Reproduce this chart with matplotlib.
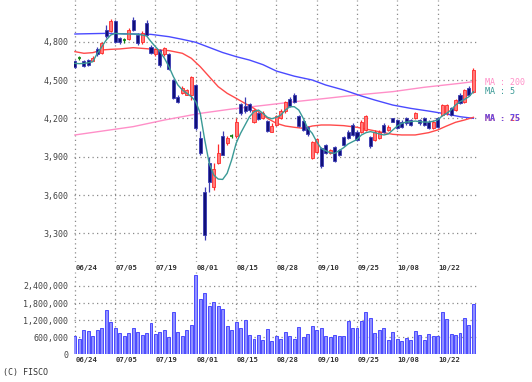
import matplotlib
matplotlib.use('Agg')
from matplotlib import pyplot as plt
from matplotlib.patches import Rectangle
from matplotlib.transforms import blended_transform_factory
import numpy as np

# trading-day index 0..89, labels every 9th day
date_labels = ['06/24', '07/05', '07/19', '08/01', '08/15', '08/28', '09/10', '09/25', '10/08', '10/22']
label_idx = [0, 9, 18, 27, 36, 45, 54, 63, 72, 81]

opens = [4645, 4670, 4650, 4655, 4650, 4745, 4715, 4890, 4885, 4960,
         4830, 4810, 4820, 4970, 4850, 4795, 4945, 4760, 4700, 4735,
         4700, 4705, 4500, 4368, 4396, 4385, 4385, 4460, 4050, 3620,
         3850, 3660, 3850, 4060, 4005, 4060, 4060, 4310, 4300, 4310,
         4170, 4240, 4205, 4180, 4095, 4150, 4200, 4255, 4355, 4380,
         4215, 4180, 4130, 3890, 3940, 3965, 3990, 3928, 3975, 3950,
         4055, 4095, 4150, 4095, 4095, 4110, 4055, 4030, 4045, 4150,
         4110, 4200, 4185, 4175, 4200, 4185, 4205, 4185, 4200, 4175,
         4125, 4200, 4225, 4240, 4280, 4265, 4385, 4330, 4435, 4410]
highs = [4660, 4690, 4660, 4665, 4685, 4760, 4800, 4930, 4975, 4970,
         4840, 4830, 4905, 4990, 4865, 4880, 4970, 4770, 4750, 4745,
         4755, 4710, 4510, 4380, 4450, 4430, 4530, 4470, 4100, 3660,
         3900, 3850, 4000, 4100, 4060, 4075, 4200, 4320, 4370, 4320,
         4275, 4250, 4255, 4190, 4160, 4230, 4270, 4335, 4370, 4400,
         4225, 4190, 4140, 4020, 4050, 3975, 4000, 3960, 3985, 3960,
         4065, 4105, 4160, 4110, 4185, 4230, 4065, 4105, 4105, 4160,
         4145, 4205, 4195, 4185, 4210, 4195, 4250, 4195, 4210, 4185,
         4185, 4210, 4315, 4315, 4290, 4355, 4395, 4430, 4450, 4595]
lows = [4595, 4655, 4600, 4610, 4645, 4690, 4705, 4830, 4875, 4790,
        4785, 4790, 4810, 4885, 4770, 4785, 4845, 4700, 4690, 4600,
        4690, 4578, 4350, 4320, 4390, 4380, 4345, 4110, 3910, 3250,
        3620, 3640, 3840, 3910, 3995, 4045, 4050, 4230, 4245, 4250,
        4160, 4185, 4195, 4090, 4090, 4140, 4195, 4245, 4285, 4320,
        4130, 4100, 4065, 3880, 3930, 3810, 3920, 3920, 3855, 3905,
        3985, 4035, 4060, 4020, 4085, 4100, 3970, 4020, 4035, 4085,
        4100, 4170, 4115, 4125, 4150, 4140, 4195, 4150, 4140, 4115,
        4115, 4125, 4215, 4230, 4215, 4255, 4310, 4320, 4375, 4400]
closes = [4605, 4670, 4610, 4620, 4675, 4700, 4790, 4845, 4960, 4800,
          4795, 4810, 4895, 4890, 4790, 4865, 4855, 4710, 4740, 4615,
          4748, 4590, 4360, 4330, 4440, 4420, 4520, 4124, 3930, 3290,
          3700, 3800, 3930, 3910, 4050, 4060, 4170, 4240, 4255, 4265,
          4265, 4195, 4245, 4100, 4140, 4220, 4260, 4325, 4295, 4330,
          4140, 4110, 4075, 4015, 4040, 3825, 3930, 3950, 3865, 3915,
          3995, 4045, 4070, 4030, 4175, 4215, 3980, 4095, 4095, 4095,
          4135, 4175, 4125, 4135, 4160, 4150, 4240, 4160, 4150, 4125,
          4175, 4135, 4305, 4305, 4225, 4345, 4320, 4420, 4385, 4575]

volume = [630000, 520000, 840000, 805000, 660000, 865000, 920000, 1555000, 1150000, 920000,
          755000, 655000, 755000, 920000, 780000, 690000, 755000, 1095000, 725000, 780000,
          870000, 610000, 1495000, 780000, 635000, 865000, 1015000, 2770000, 1955000, 2165000,
          1680000, 1840000, 1705000, 1590000, 980000, 865000, 1130000, 920000, 1210000, 690000,
          520000, 690000, 495000, 900000, 480000, 655000, 535000, 780000, 655000, 535000,
          945000, 595000, 700000, 990000, 850000, 910000, 655000, 605000, 665000, 640000,
          630000, 1165000, 935000, 935000, 1165000, 1490000, 1280000, 760000, 850000, 935000,
          490000, 795000, 525000, 465000, 585000, 490000, 805000, 665000, 490000, 725000,
          640000, 640000, 1480000, 1235000, 700000, 675000, 760000, 1280000, 1025000, 1750000]

ma5 = [4630, 4628, 4630, 4635, 4643, 4709, 4760, 4813, 4852, 4865,
       4862, 4860, 4860, 4860, 4858, 4852, 4845, 4800, 4760, 4722,
       4670, 4604, 4526, 4461, 4422, 4396, 4370, 4330, 4239, 4030,
       3848, 3757, 3725, 3722, 3770, 3874, 4004, 4083, 4148, 4213,
       4252, 4265, 4239, 4208, 4197, 4208, 4226, 4265, 4291, 4291,
       4265, 4200, 4122, 4083, 4017, 3965, 3947, 3931, 3926, 3947,
       3970, 3999, 4017, 4035, 4070, 4088, 4096, 4088, 4078, 4070,
       4078, 4109, 4140, 4161, 4171, 4174, 4179, 4174, 4171, 4171,
       4177, 4187, 4218, 4239, 4265, 4304, 4330, 4348, 4370, 4409]

ma25_idx = [0, 2, 4, 6, 8, 10, 13, 16, 19, 21, 24, 26, 28, 30, 32, 34, 36, 38, 40, 42,
            43, 45, 47, 49, 51, 53, 55, 57, 60, 63, 66, 69, 71, 73, 76, 79, 81, 83, 85, 87, 89]
ma25 = [4722, 4709, 4714, 4735, 4740, 4743, 4753, 4745, 4735, 4730, 4709, 4670, 4604, 4526,
        4448, 4396, 4357, 4317, 4278, 4226, 4200, 4161, 4140, 4130, 4122, 4140, 4148, 4148,
        4143, 4130, 4109, 4088, 4075, 4070, 4070, 4088, 4109, 4140, 4169, 4187, 4208]

ma75_idx = [0, 7, 13, 17, 21, 24, 27, 30, 33, 36, 39, 42, 45, 49, 53, 56, 60, 64, 67, 71, 75, 79, 83, 86, 89]
ma75 = [4860, 4865, 4860, 4857, 4839, 4818, 4795, 4755, 4715, 4683, 4656, 4620, 4570, 4530,
        4500, 4461, 4422, 4375, 4343, 4304, 4278, 4257, 4234, 4213, 4200]

ma200_idx = [0, 13, 20, 28, 35, 43, 49, 56, 63, 71, 78, 86, 89]
ma200 = [4070, 4135, 4187, 4239, 4273, 4305, 4330, 4356, 4383, 4409, 4443, 4474, 4487]

price_ticks = [3300, 3600, 3900, 4200, 4500, 4800]
vol_ticks = [0, 600000, 1200000, 1800000, 2400000]

MONO = 'DejaVu Sans Mono'
GRID = dict(color='#8a8a8a', linestyle=(0, (1, 2.6)), linewidth=0.9)
N = len(closes)
W, H = 532, 382

fig = plt.figure(figsize=(W / 100, H / 100), dpi=100)
fig.patch.set_facecolor('white')

def px_axes(x0, y0, x1, y1):
    return fig.add_axes([x0 / W, 1 - y1 / H, (x1 - x0) / W, (y1 - y0) / H])

ax = px_axes(74, 0, 477, 262)
axv = px_axes(74, 272, 477, 354.3)

for a in (ax, axv):
    a.set_xlim(-0.2, N - 0.2)
    for s in a.spines.values():
        s.set_visible(False)
    a.set_xticks([])
    a.tick_params(axis='y', length=0, pad=4, labelsize=6, labelcolor='#444444')
    for i in label_idx:
        a.axvline(i, zorder=0, **GRID)

ax.set_ylim(3076, 5126)
ax.set_yticks(price_ticks)
ax.set_yticklabels([f'{v:,}' for v in price_ticks], family=MONO)
for v in price_ticks:
    ax.axhline(v, zorder=0, **GRID)

axv.set_ylim(0, 2890000)
axv.set_yticks(vol_ticks)
axv.set_yticklabels([f'{v:,}' for v in vol_ticks], family=MONO)
for v in vol_ticks:
    axv.axhline(v, zorder=0, **GRID)

# moving averages
ax.plot(ma200_idx, ma200, color='#ff8fc8', lw=1.0, zorder=2)
ax.plot(ma75_idx, ma75, color='#4a4aff', lw=1.0, zorder=2)
ax.plot(ma25_idx, ma25, color='#ff4a4a', lw=1.0, zorder=2)
ax.plot(range(N), ma5, color='#3a9a96', lw=1.0, zorder=4)

# candles
bw = 0.68
for i in range(N):
    o, h, l, c = opens[i], highs[i], lows[i], closes[i]
    if c > o:
        face, edge = '#ff7a7a', '#ff2a2a'
    elif c < o:
        face, edge = '#10107a', '#3c3cb4'
    else:
        face, edge = '#108010', '#108010'
    ax.vlines(i, l, h, color=edge, lw=0.9, zorder=3)
    lo, hi = min(o, c), max(o, c)
    if hi - lo < 8:
        ax.hlines((o + c) / 2, i - bw / 2, i + bw / 2, color=edge, lw=1.2, zorder=3)
    else:
        ax.add_patch(Rectangle((i - bw / 2, lo), bw, hi - lo, facecolor=face,
                               edgecolor=edge, lw=0.6, zorder=3))

axv.bar(range(N), volume, width=0.66, color='#9090ff', edgecolor='#4a4aff', lw=0.7, zorder=2)

# date labels under both panels
for a, dy in ((ax, -0.01), (axv, -0.035)):
    tr = blended_transform_factory(a.transData, a.transAxes)
    for i, t in zip(label_idx, date_labels):
        a.text(i + 0.1, dy, t, transform=tr, ha='left', va='top', family=MONO,
               fontsize=5.2, fontweight='bold', color='#333333')

# MA legend at the line ends
lx = N + 1.6
ax.text(lx, 4482, 'MA : 200', color='#ff8fc8', family=MONO, fontsize=6, va='center', clip_on=False)
ax.text(lx, 4412, 'MA : 5', color='#3a9a96', family=MONO, fontsize=6, va='center', clip_on=False)
ax.text(lx, 4198, 'MA : 25', color='#ff4a4a', family=MONO, fontsize=6, va='center',
        fontweight='bold', clip_on=False)
ax.text(lx, 4198, 'MA : 75', color='#4a4aff', family=MONO, fontsize=6, va='center',
        fontweight='bold', clip_on=False, alpha=0.85)

fig.text(3 / W, 1 - 373 / H, '(C) FISCO', family=MONO, fontsize=6, color='#333333', va='center')

fig.savefig('out.png', dpi=100)
